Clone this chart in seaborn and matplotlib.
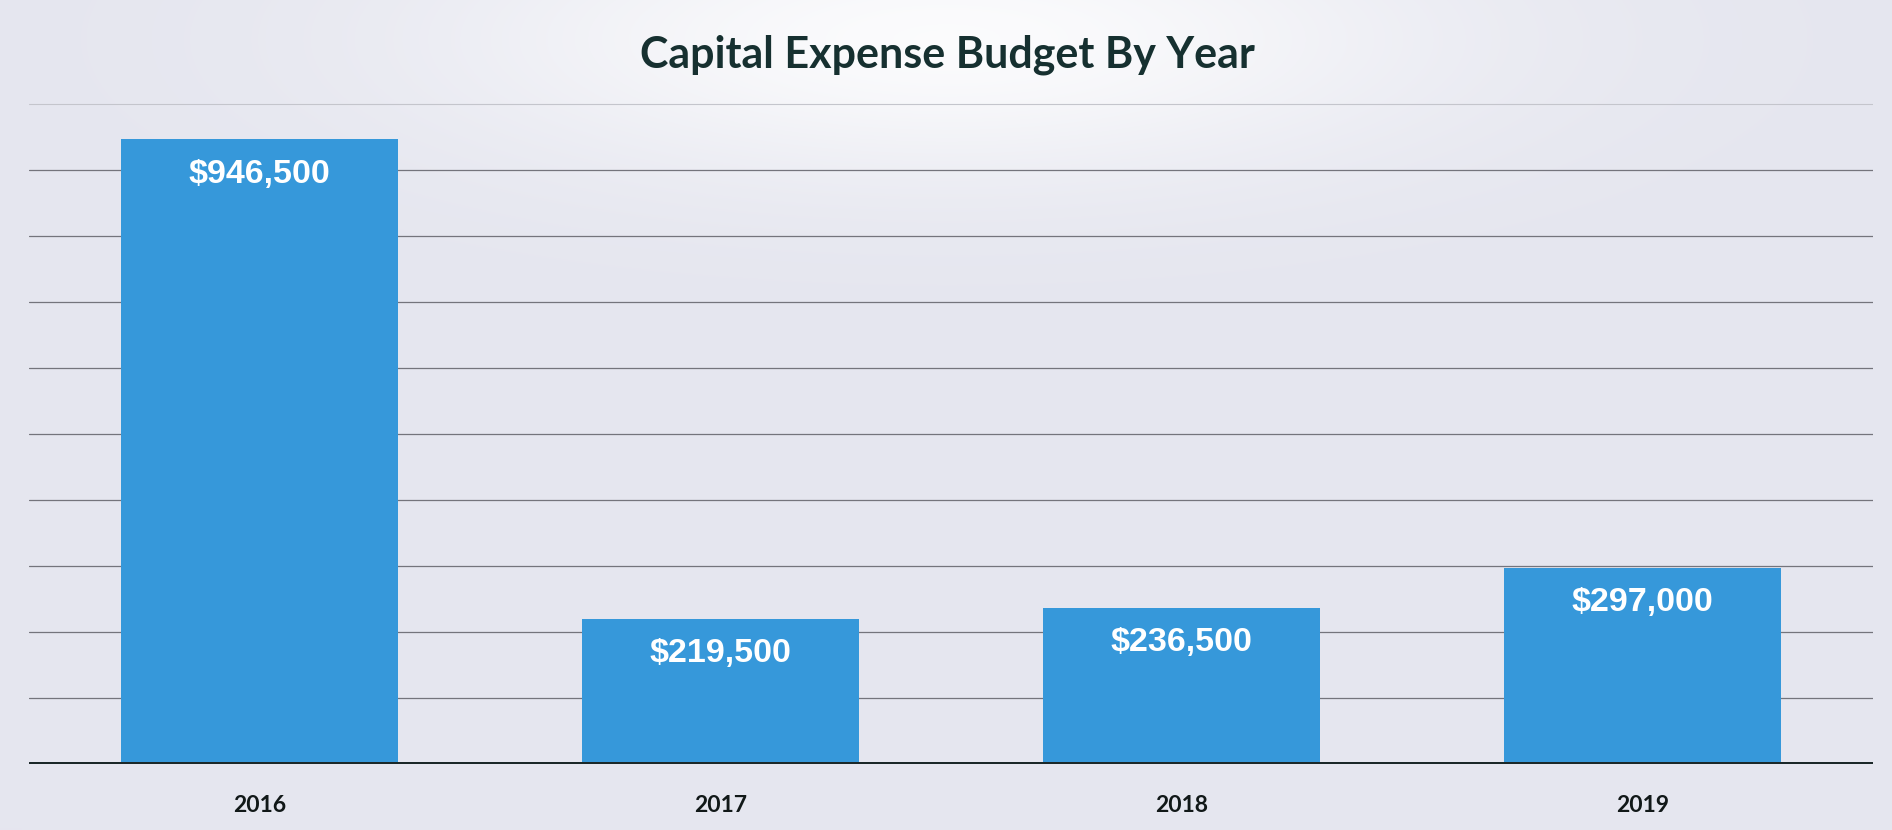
import numpy as np
import pandas as pd
import matplotlib
matplotlib.use("Agg")
import matplotlib.pyplot as plt
import seaborn as sns

# Budget data
years = ["2016", "2017", "2018", "2019"]
budgets = [946500, 219500, 236500, 297000]
value_labels = ["$946,500", "$219,500", "$236,500", "$297,000"]
grid_levels = [100000, 200000, 300000, 400000, 500000, 600000, 700000, 800000, 900000]
top_grid = 1000000

df = pd.DataFrame({"Year": years, "Budget": budgets})

sns.set_theme(style="white")
plt.rcParams["font.family"] = ["Liberation Sans", "DejaVu Sans"]

W, H = 1892, 830
fig = plt.figure(figsize=(W / 100, H / 100), dpi=100)

# Soft page background with a pale glow behind the title
bg = fig.add_axes([0, 0, 1, 1], zorder=0)
yy, xx = np.mgrid[0:H, 0:W]
base = np.array([229, 230, 239], dtype=float) / 255
glow = np.exp(-(((xx - W * 0.5) / (W * 0.26)) ** 2 + ((yy - 40) / 140.0) ** 2))
img = base[None, None, :] + (1 - base[None, None, :]) * (0.85 * glow[..., None])
bg.imshow(img, aspect="auto", extent=[0, 1, 0, 1], origin="upper")
bg.set_axis_off()

ax = fig.add_axes([0.0153, 0.0795, 0.9747, 0.835], zorder=1)
ax.patch.set_alpha(0)

sns.barplot(data=df, x="Year", y="Budget", color="#3698da", width=0.6,
            saturation=1, ax=ax, zorder=3, edgecolor="none")

ax.set_ylim(0, 1050000)
ax.set_xlim(-0.5, 3.5)

for g in grid_levels:
    ax.axhline(g, color="#74747c", lw=0.9, zorder=1)
ax.axhline(top_grid, color="#c4c5cc", lw=0.8, zorder=1)
ax.axhline(0, color="#1b2829", lw=3.6, zorder=4)

# Value labels inside the top of each bar
for patch, val, lbl in zip(ax.patches, budgets, value_labels):
    cx = patch.get_x() + patch.get_width() / 2
    ax.annotate(lbl, xy=(cx, val), xytext=(0, -25), textcoords="offset points",
                ha="center", va="center", color="white", fontsize=24.5,
                fontweight="bold", family=["Liberation Sans", "DejaVu Sans"], zorder=5)

ax.set_xlabel("")
ax.set_ylabel("")
ax.set_yticks([])
ax.tick_params(axis="x", length=0, pad=22)
for t in ax.get_xticklabels():
    t.set_family(["Lato", "DejaVu Sans"])
    t.set_fontweight("bold")
    t.set_fontsize(16.5)
    t.set_color("#111818")
for s in ax.spines.values():
    s.set_visible(False)

fig.text(0.501, 0.934, "Capital Expense Budget By Year", ha="center", va="center",
         fontsize=31, fontweight="bold", color="#163030",
         family=["Lato", "DejaVu Sans"])

fig.savefig("out.png", dpi=100)
